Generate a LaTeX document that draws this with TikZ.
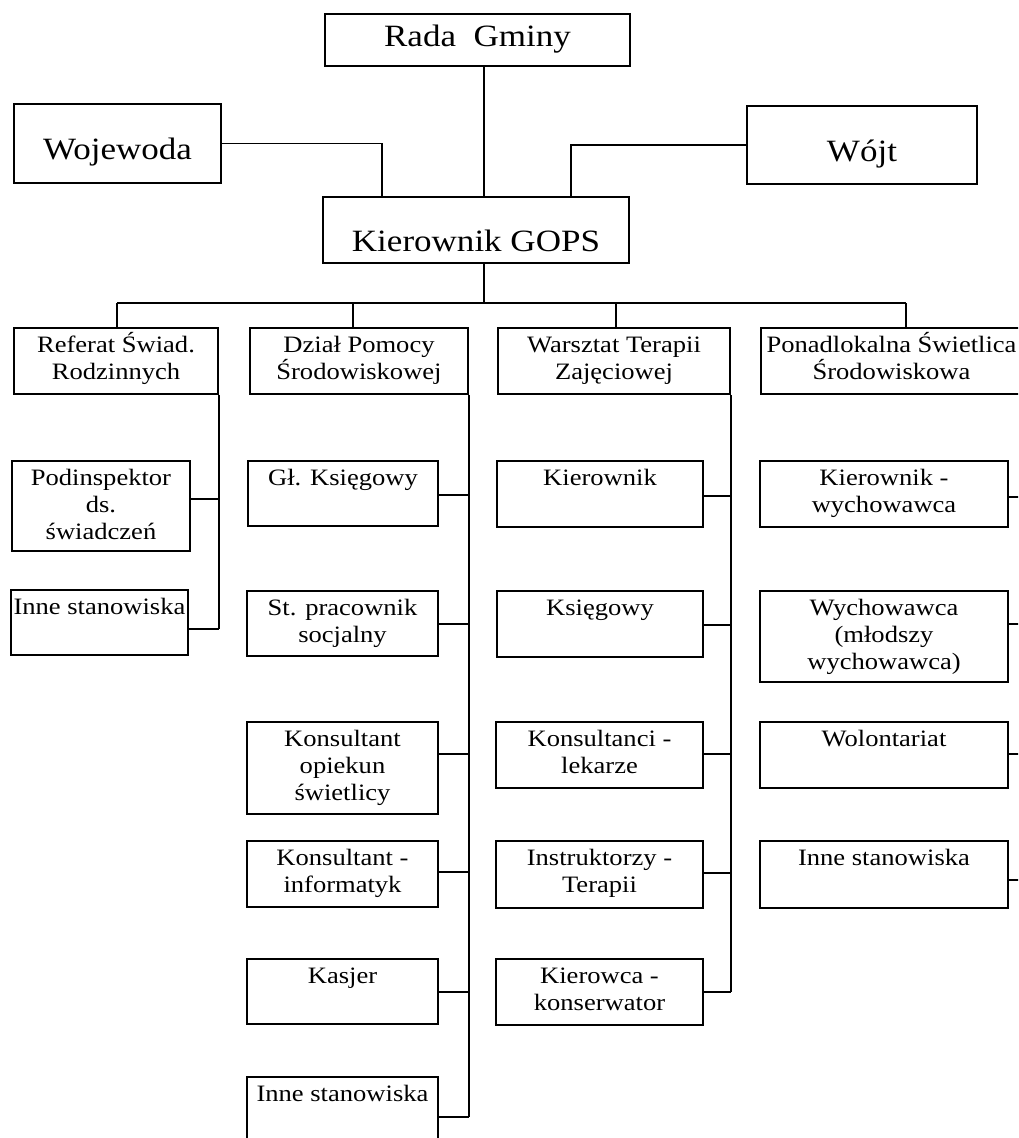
\documentclass[tikz,border=0pt]{standalone}
\usepackage{fontspec}
\setmainfont{Liberation Serif}[FakeStretch=1.13]
\tikzset{
  unit/.style={draw, line width=1.8pt, inner sep=0pt},
  unittext/.style={anchor=north, align=center, inner sep=1.5pt,
    font=\fontsize{23.5}{27}\selectfont},
  headtext/.style={anchor=base, inner sep=0pt, font=\fontsize{31}{37}\selectfont},
  link/.style={line width=1.8pt}
}
% box from (x1,y1) to (x2,y2), text hung from the top
\newcommand\unitbox[6]{%
  \node[unit, minimum width={(#4-#2)*1pt}, minimum height={(#5-#3)*1pt},
    label={[unittext]north:{\rule{0pt}{24pt}#6}}] (#1) at ({(#2+#4)/2},{(#3+#5)/2}) {};}
% top boxes, one line set on a baseline below the top
\newcommand\headbox[7]{%
  \node[unit, minimum width={(#4-#2)*1pt}, minimum height={(#5-#3)*1pt},
    label={[headtext, yshift={-#6pt}]north:{#7}}] (#1) at ({(#2+#4)/2},{(#3+#5)/2}) {};}
\begin{document}
\begin{tikzpicture}[x=1pt, y=-1pt]
\useasboundingbox (0,0) rectangle (1018,1138);
\clip (0,0) rectangle (1018,1138);

\headbox{rada}{325}{14}{630}{66}{33.5}{Rada\ \ Gminy}
\headbox{woj}{14}{104}{221}{183}{56.8}{Wojewoda}
\headbox{wojt}{747}{106}{977}{184}{56.8}{Wójt}
\headbox{kier}{323}{197}{629}{263}{55.8}{Kierownik GOPS}

% departments
\unitbox{ref}{14}{328}{218}{394}{Referat Świad.\\Rodzinnych}
\unitbox{dzial}{250}{328}{468}{394}{Dział Pomocy\\Środowiskowej}
\unitbox{warsz}{498}{328}{730}{394}{Warsztat Terapii\\Zajęciowej}
\unitbox{ponad}{761}{328}{1022}{394}{Ponadlokalna Świetlica\\Środowiskowa}

% posts
\unitbox{podinsp}{12}{461}{190}{551}{Podinspektor\\ds.\\świadczeń}
\unitbox{inneR}{11}{590}{188}{655}{Inne stanowiska}

\unitbox{glks}{248}{461}{438}{526}{Gł. Księgowy}
\unitbox{stprac}{247}{591}{438}{656}{St. pracownik\\socjalny}
\unitbox{opiekun}{247}{722}{438}{814}{Konsultant\\opiekun\\świetlicy}
\unitbox{informatyk}{247}{841}{438}{907}{Konsultant -\\informatyk}
\unitbox{kasjer}{247}{959}{438}{1024}{Kasjer}
\unitbox{inneD}{247}{1077}{438}{1145}{Inne stanowiska}

\unitbox{kierWTZ}{497}{461}{703}{527}{Kierownik}
\unitbox{ksieg}{497}{591}{703}{657}{Księgowy}
\unitbox{lekarze}{496}{722}{703}{788}{Konsultanci -\\lekarze}
\unitbox{instr}{496}{841}{703}{908}{Instruktorzy -\\Terapii}
\unitbox{kierowca}{496}{959}{703}{1025}{Kierowca -\\konserwator}

\unitbox{kierwych}{760}{461}{1008}{527}{Kierownik -\\wychowawca}
\unitbox{wych}{760}{591}{1008}{682}{Wychowawca\\(młodszy\\wychowawca)}
\unitbox{wolont}{760}{722}{1008}{788}{Wolontariat}
\unitbox{inneS}{760}{841}{1008}{908}{Inne stanowiska}

\coordinate (spine) at (484,0);
\coordinate (wojdrop) at (382,0);
\coordinate (wojtdrop) at (571,0);
\coordinate (d1) at (117,303);
\coordinate (d2) at (353,303);
\coordinate (d3) at (616,303);
\coordinate (d4) at (906,303);

\draw[link] (rada.south -| spine) -- (kier.north -| spine);
\draw[link] (woj.east) -| (kier.north -| wojdrop);
\draw[link] (wojt.west) -| (kier.north -| wojtdrop);
\draw[link] (kier.south -| spine) -- (spine |- d1);
\draw[link] (d1) -- (d4);
\foreach \d/\b in {d1/ref, d2/dzial, d3/warsz, d4/ponad}
  \draw[link] (\d) -- (\b.north -| \d);

\foreach \b/\y in {podinsp/499, inneR/629}
  \draw[link] (\b.east |- 0,\y) -- (ref.east |- 0,\y);
\draw[link] (ref.south east) -- (ref.east |- 0,629);

\foreach \b/\y in {glks/495, stprac/624, opiekun/754, informatyk/872, kasjer/992, inneD/1117}
  \draw[link] (\b.east |- 0,\y) -- (dzial.east |- 0,\y);
\draw[link] (dzial.south east) -- (dzial.east |- 0,1117);

\foreach \b/\y in {kierWTZ/496, ksieg/625, lekarze/754, instr/873, kierowca/992}
  \draw[link] (\b.east |- 0,\y) -- (warsz.east |- 0,\y);
\draw[link] (warsz.south east) -- (warsz.east |- 0,992);

\foreach \b/\y in {kierwych/497, wych/624, wolont/754, inneS/880}
  \draw[link] (\b.east |- 0,\y) -- (ponad.east |- 0,\y);
\draw[link] (ponad.south east) -- (ponad.east |- 0,880);
\end{tikzpicture}
\end{document}
